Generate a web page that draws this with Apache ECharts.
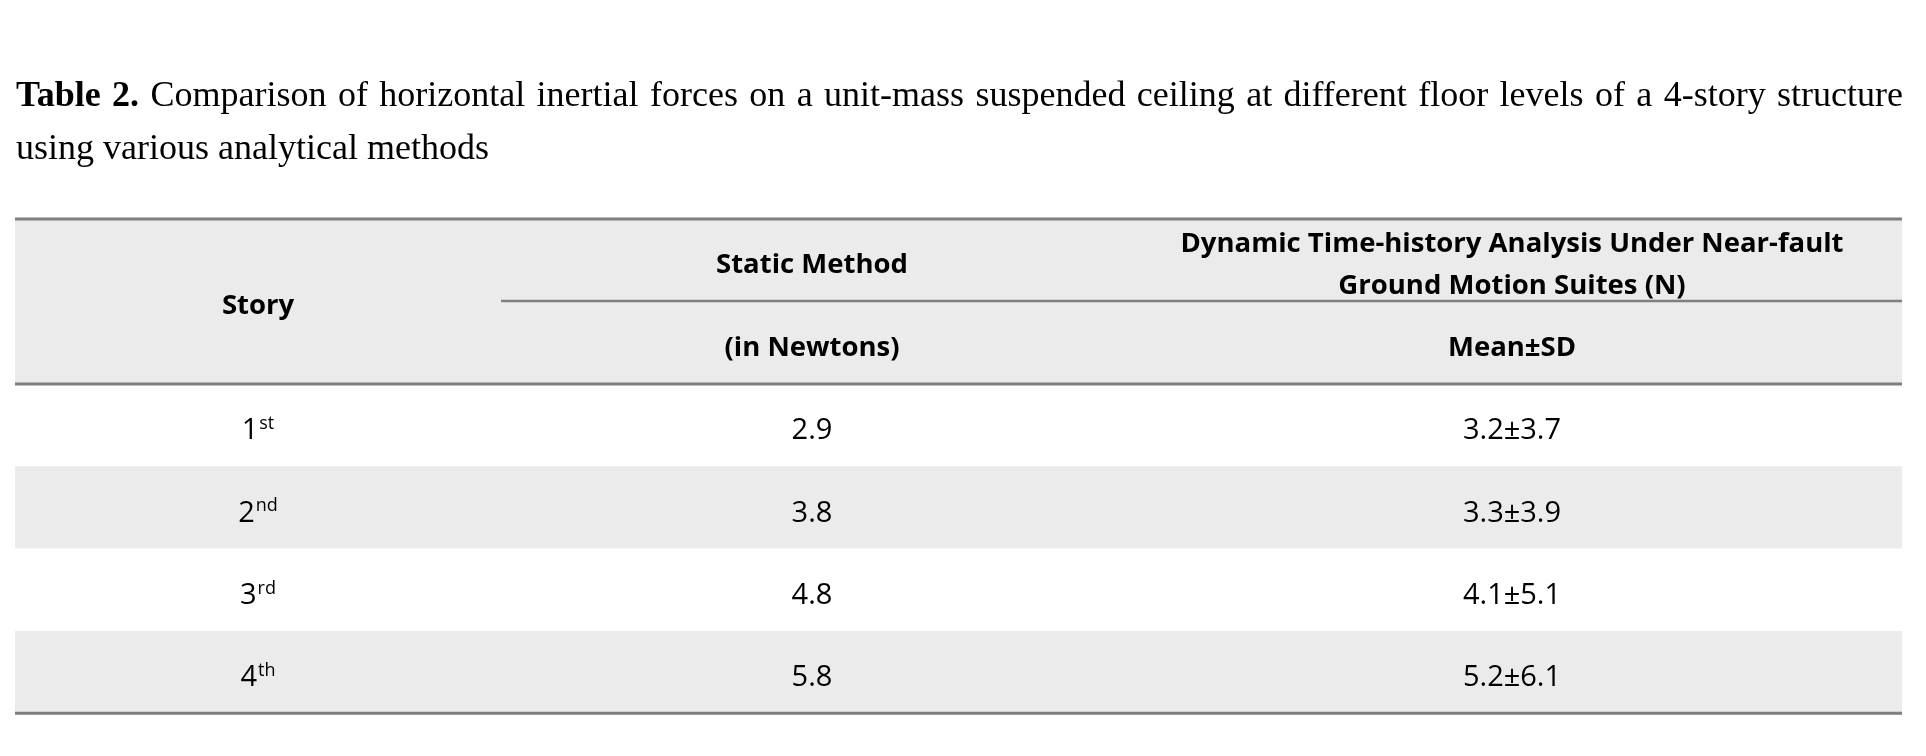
<!DOCTYPE html>
<html>
<head>
<meta charset="utf-8">
<script src="https://cdn.jsdelivr.net/npm/echarts@6/dist/echarts.min.js"></script>
<style>
html,body{margin:0;padding:0;background:#fff;}
#chart{width:1926px;height:756px;}
</style>
</head>
<body>
<div id="chart"></div>
<script>
// ---- data ----
const titleLabel = 'Table 2.';
const titleLine1 = 'Comparison of horizontal inertial forces on a unit-mass suspended ceiling at different floor levels of a 4-story structure';
const titleLine2 = 'using various analytical methods';
const colStory = 'Story';
const colStaticTop = 'Static Method';
const colStaticSub = '(in Newtons)';
const colDynTop = ['Dynamic Time-history Analysis Under Near-fault', 'Ground Motion Suites (N)'];
const colDynSub = 'Mean±SD';
const storyNumbers = ['1', '2', '3', '4'];
const storySuffixes = ['st', 'nd', 'rd', 'th'];
const staticValues = [2.9, 3.8, 4.8, 5.8];
const dynamicMean = [3.2, 3.3, 4.1, 5.2];
const dynamicSD = [3.7, 3.9, 5.1, 6.1];

// ---- layout ----
const L = 15, R = 1902;
const headTop = 219, headMid = 301, headBot = 384;
const rowH = 82.3;
const c1 = 258, c2 = 812, c3 = 1512, divStart = 501;
const lineColor = '#7f7f7f', bandColor = '#ebebeb';
const serif = '"Liberation Serif", "Times New Roman", serif';
const sans = '"Open Sans", "Noto Sans", sans-serif';

const ctx = document.createElement('canvas').getContext('2d');
function measure(t, font) { ctx.font = font; return ctx.measureText(t).width; }

const elements = [];
function txt(x, y, text, opts) {
  elements.push(Object.assign({
    type: 'text', x: x, y: y, silent: true,
    style: Object.assign({
      text: text, fill: '#000', align: 'center', verticalAlign: 'middle',
      textAlign: 'center', textVerticalAlign: 'middle'
    }, opts)
  }));
}

// title line 1 (justified)
const fBold = 'bold 36px ' + serif, fReg = '36px ' + serif;
const words = titleLabel.split(' ').map(w => ({ w: w, f: fBold, b: true }))
  .concat(titleLine1.split(' ').map(w => ({ w: w, f: fReg, b: false })));
let total = 0;
words.forEach(o => { o.width = measure(o.w, o.f); total += o.width; });
const tL = 16, tR = 1903;
const gap = (tR - tL - total) / (words.length - 1);
let xx = tL;
words.forEach(o => {
  txt(xx, 97, o.w, { align: 'left', textAlign: 'left', fontFamily: serif, fontSize: 36, fontWeight: o.b ? 'bold' : 'normal' });
  xx += o.width + gap;
});
txt(tL, 150, titleLine2, { align: 'left', textAlign: 'left', fontFamily: serif, fontSize: 36 });

// header band
elements.push({ type: 'rect', silent: true, shape: { x: L, y: headTop, width: R - L, height: headBot - headTop }, style: { fill: bandColor } });
// row bands
const nRows = storyNumbers.length;
for (let i = 0; i < nRows; i++) {
  if (i % 2 === 1) {
    elements.push({ type: 'rect', silent: true, shape: { x: L, y: headBot + i * rowH, width: R - L, height: rowH }, style: { fill: bandColor } });
  }
}
// lines
function hline(x1, x2, y, w) {
  elements.push({ type: 'line', silent: true, shape: { x1: x1, y1: y, x2: x2, y2: y }, style: { stroke: lineColor, lineWidth: w } });
}
hline(L, R, headTop, 3);
hline(divStart, R, headMid, 2.5);
hline(L, R, headBot, 3);
hline(L, R, headBot + nRows * rowH, 3);

// header texts
const hb = { fontFamily: sans, fontSize: 27.5, fontWeight: 'bold' };
txt(c1, 306, colStory, hb);
txt(c2, 265, colStaticTop, hb);
txt(c2, 348, colStaticSub, hb);
txt(c3, 244, colDynTop[0], hb);
txt(c3, 286, colDynTop[1], hb);
txt(c3, 348, colDynSub, hb);

// body rows
for (let i = 0; i < nRows; i++) {
  const y = headBot + i * rowH + 47;
  txt(c1, y, '{n|' + storyNumbers[i] + '}{s|' + storySuffixes[i] + '}', {
    rich: {
      n: { fontFamily: sans, fontSize: 29, lineHeight: 32, fill: '#000' },
      s: { fontFamily: sans, fontSize: 18, lineHeight: 18, verticalAlign: 'top', fill: '#000', padding: [0, 0, 0, 1] }
    }
  });
  txt(c2, y, staticValues[i].toFixed(1), { fontFamily: sans, fontSize: 29 });
  txt(c3, y, dynamicMean[i].toFixed(1) + '±' + dynamicSD[i].toFixed(1), { fontFamily: sans, fontSize: 29 });
}

const chart = echarts.init(document.getElementById('chart'), null, { renderer: 'canvas' });
chart.setOption({
  backgroundColor: '#ffffff',
  animation: false,
  graphic: { elements: elements }
});
</script>
</body>
</html>
